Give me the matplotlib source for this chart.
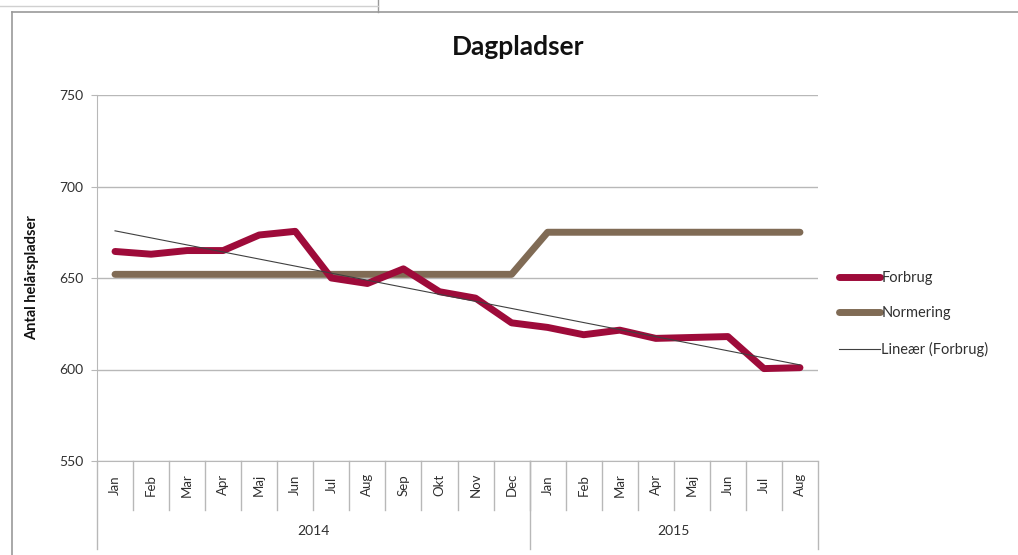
import numpy as np
import matplotlib
matplotlib.use("Agg")
import matplotlib.pyplot as plt
from matplotlib.lines import Line2D

# data
months = ["Jan", "Feb", "Mar", "Apr", "Maj", "Jun", "Jul", "Aug", "Sep", "Okt", "Nov", "Dec",
          "Jan", "Feb", "Mar", "Apr", "Maj", "Jun", "Jul", "Aug"]
years = ["2014", "2015"]
months_per_year = [12, 8]
forbrug = [664.5, 663, 665, 665, 673.5, 675.5, 650, 647, 655, 642.5, 639, 625.5,
           623, 619, 621.5, 617, 617.5, 618, 600.5, 601]
normering = [652] * 12 + [675] * 8

red = "#9e0b3a"
brown = "#806b55"
grid_c = "#b8b8b8"
txt_c = "#303030"

plt.rcParams["font.family"] = ["Lato", "DejaVu Sans"]

fig = plt.figure(figsize=(10.18, 5.55), dpi=100)
ax = fig.add_axes([97 / 1018, 1 - 461 / 555, 721 / 1018, 366 / 555])

x = np.arange(len(months))
ax.plot(x, forbrug, color=red, lw=5, solid_capstyle="round", solid_joinstyle="round", zorder=3)
ax.plot(x, normering, color=brown, lw=5, solid_capstyle="round", solid_joinstyle="round", zorder=2)

# linear trend of Forbrug
k, m = np.polyfit(x, forbrug, 1)
ax.plot(x, k * x + m, color="#404040", lw=0.8, zorder=4)

ax.set_xlim(-0.5, len(months) - 0.5)
ax.set_ylim(550, 750)
ax.set_yticks(np.arange(550, 751, 50))
ax.tick_params(axis="y", labelsize=10, colors=txt_c, length=4, color=grid_c, pad=6)
ax.set_xticks([])
ax.grid(axis="y", color=grid_c, lw=1)
ax.set_axisbelow(True)
for s in ["top", "right"]:
    ax.spines[s].set_visible(False)
ax.spines["left"].set_color(grid_c)
ax.spines["bottom"].set_color(grid_c)

ax.set_ylabel("Antal helårspladser", fontsize=10.5, fontweight="bold", labelpad=14, color="#111111")

# multi-level category axis
trans = ax.get_xaxis_transform()
for i, lab in enumerate(months):
    ax.text(i, -0.065, lab, rotation=90, ha="center", va="center", fontsize=9.5,
            color=txt_c, transform=trans, clip_on=False)
for i in range(1, len(months)):
    ax.plot([i - 0.5, i - 0.5], [0, -0.135], color=grid_c, lw=1, transform=trans, clip_on=False)
edges = [-0.5]
for n in months_per_year:
    edges.append(edges[-1] + n)
for e in edges:
    ax.plot([e, e], [0, -0.24], color=grid_c, lw=1, transform=trans, clip_on=False)
for i, yr in enumerate(years):
    ax.text((edges[i] + edges[i + 1]) / 2, -0.19, yr, ha="center", va="center", fontsize=10,
            color=txt_c, transform=trans, clip_on=False)

fig.text(518 / 1018, 1 - 47 / 555, "Dagpladser", ha="center", va="center",
         fontsize=19, fontweight="bold", color="#111111")

handles = [Line2D([], [], color=red, lw=5, solid_capstyle="round"),
           Line2D([], [], color=brown, lw=5, solid_capstyle="round"),
           Line2D([], [], color="#404040", lw=0.8)]
fig.legend(handles, ["Forbrug", "Normering", "Lineær (Forbrug)"], loc="center left",
           bbox_to_anchor=(826 / 1018, 1 - 314 / 555), frameon=False, fontsize=10.5,
           handlelength=2.8, handletextpad=0.1, labelspacing=1.45, labelcolor=txt_c)

# page frame around the chart
fig.add_artist(Line2D([12 / 1018, 1], [1 - 12 / 555, 1 - 12 / 555], color="#9a9a9a", lw=1.2,
                      transform=fig.transFigure))
fig.add_artist(Line2D([12 / 1018, 12 / 1018], [0, 1 - 12 / 555], color="#9a9a9a", lw=1.2,
                      transform=fig.transFigure))
fig.add_artist(Line2D([378 / 1018, 378 / 1018], [1 - 12 / 555, 1], color="#9a9a9a", lw=1,
                      transform=fig.transFigure))
fig.add_artist(Line2D([0, 378 / 1018], [1 - 6 / 555, 1 - 6 / 555], color="#d0d0d0", lw=1,
                      transform=fig.transFigure))

fig.savefig("out.png", dpi=100)
